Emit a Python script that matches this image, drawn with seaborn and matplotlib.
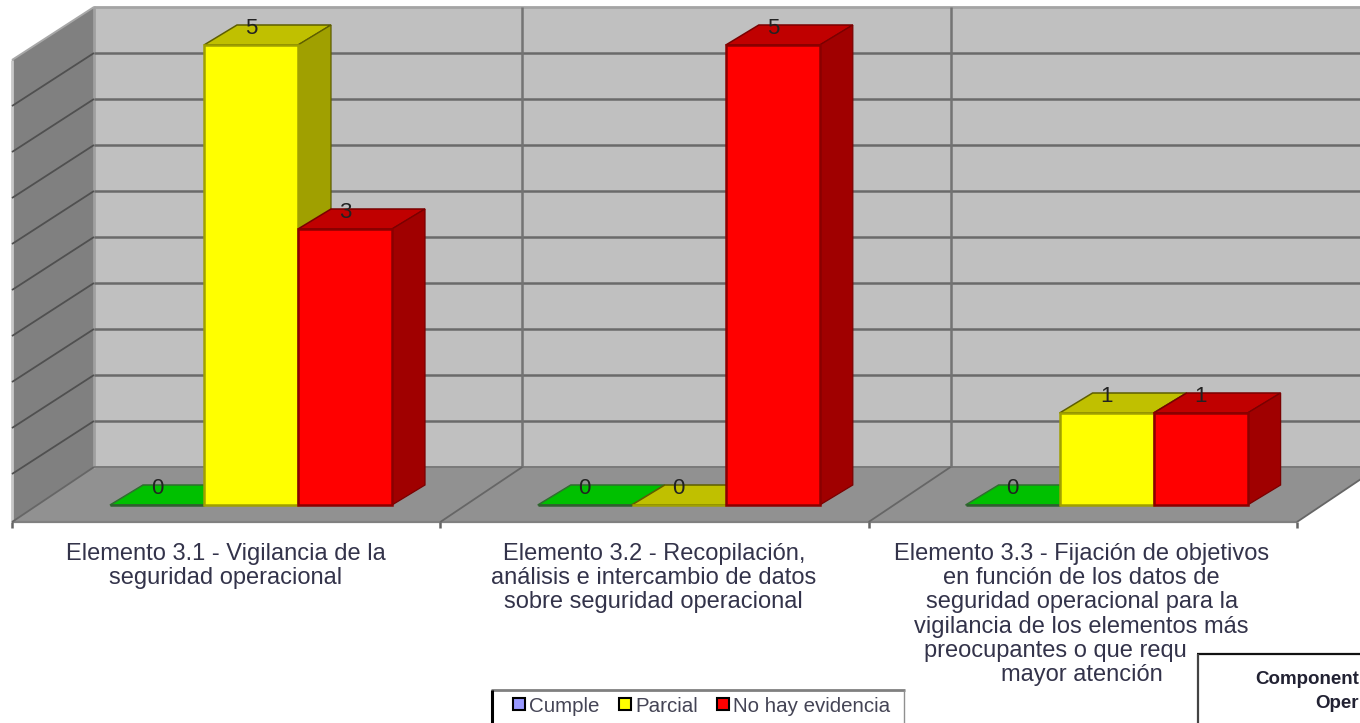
import pandas as pd
import numpy as np
import matplotlib
matplotlib.use('Agg')
import matplotlib.pyplot as plt
from matplotlib.patches import Polygon, Rectangle, Patch
import seaborn as sns

# --- data ---
elementos = ['Elemento 3.1', 'Elemento 3.2', 'Elemento 3.3']
estados = ['Cumple', 'Parcial', 'No hay evidencia']
cumple = [0, 0, 0]
parcial = [5, 0, 1]
no_evidencia = [3, 5, 1]
etiquetas = [
    ['Elemento 3.1 - Vigilancia de la', 'seguridad operacional'],
    ['Elemento 3.2 - Recopilación,', 'análisis e intercambio de datos', 'sobre seguridad operacional'],
    ['Elemento 3.3 - Fijación de objetivos', 'en función de los datos de', 'seguridad operacional para la',
     'vigilancia de los elementos más', 'preocupantes o que requieren', 'mayor atención'],
]
y_grid = [0.5, 1, 1.5, 2, 2.5, 3, 3.5, 4, 4.5]

colores_frente = ['#00C000', '#FFFF00', '#FF0000']
colores_arriba = ['#00C000', '#C0C000', '#C00000']
colores_lado = ['#00A000', '#A0A000', '#A00000']
colores_borde = ['#2F5F2F', '#A0A000', '#8A0000']
colores_leyenda = ['#9999FF', '#FFFF00', '#FF0000']

# --- layout in pixels of the 1360x723 image ---
W, H = 1360, 723
PX_CAT = 427.8      # pixels between two categories
PX_WALL = 428.3     # pixels between two wall sections
PX_VAL = 92.0       # pixels for one unit of value
X0, Y0 = 251.0, 505.0   # where category 0 / value 0 fall
FDX, FDY = 82, 55   # depth of the floor
BDX, BDY = 33, 20   # depth of one bar


def px(x):
    return (x - X0) / PX_CAT


def py(y):
    return (Y0 - y) / PX_VAL


def poly(ax, pts, **kw):
    ax.add_patch(Polygon([(px(a), py(b)) for a, b in pts], closed=True, **kw))


def line(ax, a, b, color='#666666', lw=1.8, z=2):
    ax.plot([px(a[0]), px(b[0])], [py(a[1]), py(b[1])], color=color, lw=lw, zorder=z,
            solid_capstyle='butt')


df = pd.DataFrame({
    'elemento': elementos * 3,
    'estado': np.repeat(estados, 3),
    'valor': cumple + parcial + no_evidencia,
})

sns.set_theme(style='white')
plt.rcParams['font.family'] = ['Liberation Sans', 'DejaVu Sans']

fig = plt.figure(figsize=(W / 100, H / 100), dpi=100)
ax = fig.add_axes([0, 0, 1, 1])

sns.barplot(data=df, x='elemento', y='valor', hue='estado', hue_order=estados,
            palette=colores_frente, saturation=1, width=282 / PX_CAT, gap=0,
            legend=False, ax=ax)
ax.set_xlim(px(0), px(W))
ax.set_ylim(py(H), py(0))
ax.set_axis_off()

# --- walls and floor ---
TOP, BASE = 7, 467
poly(ax, [(94, TOP), (W + 30, TOP), (W + 30, BASE), (94, BASE)], fc='#C0C0C0', ec='none', zorder=0)
poly(ax, [(12, TOP + 53), (94, TOP), (94, BASE), (12, BASE + FDY)], fc='#808080', ec='none', zorder=0.5)
poly(ax, [(12, BASE + FDY), (94, BASE), (94 + 1285, BASE), (12 + 1285, BASE + FDY)],
     fc='#919191', ec='none', zorder=1)
line(ax, (94, TOP), (W, TOP), color='#A4A4A4', lw=2)
line(ax, (12, TOP + 53), (94, TOP), color='#A8A8A8', lw=1.4)
line(ax, (12, TOP + 53), (12, BASE + FDY), color='#C8C8C8', lw=2)
line(ax, (94, BASE), (W, BASE), color='#7A7A7A', lw=1.4)
line(ax, (12, BASE + FDY), (12 + 1285, BASE + FDY), color='#808080', lw=1.6)

for v in y_grid:
    yb = BASE - v * PX_VAL
    line(ax, (94, yb), (W, yb), color='#6A6A6A')
    line(ax, (12, yb + 53), (94, yb), color='#505050', lw=1.3)
for i in range(4):
    xb = 94 + i * PX_WALL
    if 0 < i < 3:
        line(ax, (xb, TOP), (xb, BASE), color='#747474')
    line(ax, (xb, BASE), (xb - FDX, BASE + FDY), color='#666666', lw=1.3)
    line(ax, (xb - FDX, BASE + FDY), (xb - FDX, BASE + FDY + 6), color='#666666', lw=1.8)
ax.plot([px(94), px(94)], [py(TOP), py(BASE)], color='#A0A0A0', lw=2, zorder=1.5)

# --- 3D faces worked out from the bars seaborn has drawn ---
dx, dy = BDX / PX_CAT, BDY / PX_VAL
bordes_arriba = ['#2F6F2F', '#5E5E00', '#7A0000']
for k, cont in enumerate(ax.containers):
    z = 3 + k
    for bar in cont:
        bar.set_zorder(z + 0.2)
        bar.set_edgecolor(colores_borde[k])
        bar.set_linewidth(1.8)
        x0, w, h = bar.get_x(), bar.get_width(), bar.get_height()
        ax.add_patch(Polygon([(x0, h), (x0 + w, h), (x0 + w + dx, h + dy), (x0 + dx, h + dy)],
                             closed=True, fc=colores_arriba[k], ec=bordes_arriba[k], lw=1.1, zorder=z))
        if h > 0:
            ax.add_patch(Polygon([(x0 + w, 0), (x0 + w + dx, dy), (x0 + w + dx, h + dy), (x0 + w, h)],
                                 closed=True, fc=colores_lado[k], ec=bordes_arriba[k], lw=0.9, zorder=z))
    ax.bar_label(cont, fmt='%d', padding=4, fontsize=16, color='#222222')
for t in ax.texts:
    t.set_zorder(8)

# --- category labels, one text per line ---
for i, lineas in enumerate(etiquetas):
    for j, texto in enumerate(lineas):
        ax.text(i - 25 / PX_CAT, py(554 + 24.2 * j), texto, ha='center', va='center', fontsize=17,
                color='#33334A', zorder=4)

# --- bottom right box, hides the end of the fifth line ---
ax.add_patch(Rectangle((px(1188), py(H)), px(W) - px(1188), py(640) - py(H), fc='white', ec='none', zorder=5))
line(ax, (1197, 654), (W, 654), color='#111111', lw=1.6, z=6)
line(ax, (1198, 654), (1198, H), color='#444444', lw=1.6, z=6)
ax.text(px(1255), py(680), 'Component', ha='left', va='center', fontsize=13.5, fontweight='bold',
        color='#222233', zorder=7)
ax.text(px(1315), py(703), 'Oper', ha='left', va='center', fontsize=13.5, fontweight='bold',
        color='#222233', zorder=7)

# --- legend box ---
ax.add_patch(Rectangle((px(491), py(H)), px(904) - px(491), py(690) - py(H), fc='white', ec='none', zorder=5))
line(ax, (491, 690), (905, 690), color='#808080', lw=2, z=6)
line(ax, (492, 690), (492, H), color='#000000', lw=2.2, z=6)
line(ax, (904, 690), (904, H), color='#909090', lw=1, z=6)
handles = [Patch(facecolor=c, edgecolor='black', linewidth=1.5) for c in colores_leyenda]
leg = ax.legend(handles, estados, ncol=3, frameon=False, fontsize=14.8, handlelength=0.58, handleheight=0.55,
                handletextpad=0.2, columnspacing=0.95, loc='center left',
                bbox_to_anchor=(513 / W, 1 - 706 / H), borderpad=0, borderaxespad=0,
                labelcolor='#444455')
leg.set_zorder(7)

fig.savefig('out.png', dpi=100)
